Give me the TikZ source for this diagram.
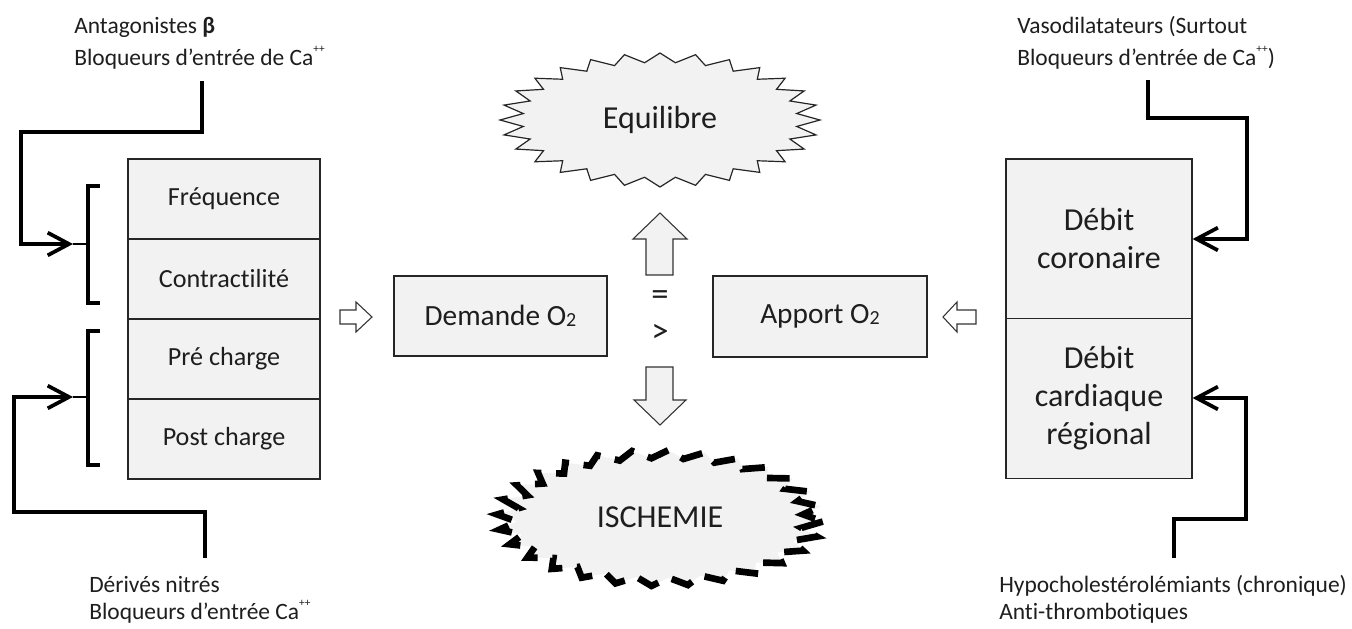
\documentclass[tikz,border=0pt]{standalone}
\usepackage{fontspec}
\setmainfont{Carlito}[Ligatures={NoCommon,NoContextual}]
\usetikzlibrary{arrows.meta}
\definecolor{cellgray}{HTML}{F2F2F2}
\definecolor{ink}{HTML}{1E1E1E}
\newcommand\myfsmall{\fontsize{17.6pt}{24pt}\selectfont}
\newcommand\myfcell{\fontsize{19.6pt}{24pt}\selectfont}
\newcommand\myfmid{\fontsize{22pt}{26pt}\selectfont}
\newcommand\myfbig{\fontsize{24pt}{28.5pt}\selectfont}
\newcommand\mycapp{\raisebox{0.55em}{\fontsize{8.5pt}{8.5pt}\selectfont ++}}
\newcommand\mysubtwo{\raisebox{-0.04em}{\fontsize{15pt}{15pt}\selectfont 2}}
\begin{document}
\begin{tikzpicture}[x=0.75pt,y=-0.75pt,
  every node/.style={text=ink},
  cellbox/.style={draw=black!85, line width=0.9pt, fill=cellgray, inner sep=0pt},
  lbl/.style={anchor=base west, inner sep=0pt, font=\myfsmall},
  conn/.style={line width=3.6pt, draw=black, -{Straight Barb[length=16pt,width=17pt,line width=2.8pt]}},
  bracestyle/.style={line width=2.4pt, draw=black},
  blockarrow/.style={draw=black!80, line width=0.8pt, fill=cellgray},
  smallarrow/.style={draw=black!80, line width=0.8pt, fill=white},
]
\useasboundingbox (0,0) rectangle (1352,628);
\fill[white] (0,0) rectangle (1352,628);

% ---------- left stack ----------
\node[cellbox, minimum width=144pt, minimum height=60pt, font=\myfcell] (l1) at (224,199) {Fréquence};
\node[cellbox, minimum width=144pt, minimum height=60pt, font=\myfcell] (l2) at (224,279) {Contractilité};
\node[cellbox, minimum width=144pt, minimum height=60pt, font=\myfcell] (l3) at (224,359) {Pré charge};
\node[cellbox, minimum width=144pt, minimum height=60pt, font=\myfcell] (l4) at (224,439) {Post charge};

% braces
\draw[bracestyle] (100,186) -- (88,186) -- (88,303) -- (100,303);
\draw[bracestyle] (100,331) -- (88,331) -- (88,465) -- (100,465);
\coordinate (b1) at (88,244);
\coordinate (b2) at (88,397);
\coordinate (a1) at (73,244);
\coordinate (a2) at (73,397);
\draw[line width=2.2pt] (a1) -- (b1);
\draw[line width=2.2pt] (a2) -- (b2);

% ---------- right stack ----------
\node[cellbox, minimum width=139.5pt, minimum height=120pt, font=\myfbig, align=center] (r1) at (1099,239) {Débit\\coronaire};
\node[cellbox, minimum width=139.5pt, minimum height=119.5pt, font=\myfbig, align=center] (r2) at (1099,398.5) {\fontsize{24pt}{33.5pt}\selectfont Débit\\cardiaque\\régional};

% ---------- centre ----------
\node[cellbox, minimum width=159.75pt, minimum height=60pt, font=\myfmid] (dem) at (500.5,316) {Demande O\mysubtwo};
\node[cellbox, minimum width=160.5pt, minimum height=60.75pt, font=\myfmid] (app) at (820,316.5) {Apport O\mysubtwo};
\node[font=\fontsize{26pt}{30pt}\selectfont, inner sep=0pt] (eqs) at (660,298) {=};
\node[font=\fontsize{26pt}{30pt}\selectfont, inner sep=0pt] (gts) at (660,333) {>};

% block arrows
\draw[blockarrow] (646,275) -- (646,239) -- (633,239) -- (660,213) -- (687,239) -- (673,239) -- (673,275) -- cycle;
\draw[blockarrow] (646,367) -- (646,400) -- (634,400) -- (660,425) -- (686,400) -- (673,400) -- (673,367) -- cycle;
\draw[smallarrow] (340,310) -- (356,310) -- (356,302) -- (372,317) -- (356,332) -- (356,324) -- (340,324) -- cycle;
\draw[smallarrow] (976,310) -- (957,310) -- (957,302) -- (943,317) -- (957,332) -- (957,324) -- (976,324) -- cycle;

% Equilibre burst
\draw[draw=black!85, line width=0.9pt, fill=cellgray]
  plot[samples=56, domain=0:55, variable=\k]
  ({660+160*(0.93+0.07*cos(\k*180))*cos(\k*6.428571)},
   {120+67*(0.93+0.07*cos(\k*180))*sin(\k*6.428571)}) -- cycle;
\node[font=\myfbig, inner sep=0pt] (equ) at (660,120) {Equilibre};

% Ischemie burst
\fill[cellgray]
  plot[samples=56, domain=0:55, variable=\k]
  ({660+163*(0.94+0.06*cos(\k*180))*cos(\k*6.428571+3)},
   {518+68*(0.94+0.06*cos(\k*180))*sin(\k*6.428571+3)}) -- cycle;
\draw[draw=black, line width=5pt, dash pattern=on 17pt off 11pt]
  plot[samples=56, domain=0:55, variable=\k]
  ({660+163*(0.94+0.06*cos(\k*180))*cos(\k*6.428571+3)},
   {518+68*(0.94+0.06*cos(\k*180))*sin(\k*6.428571+3)}) -- cycle;
\node[font=\myfbig, inner sep=0pt] (isc) at (660,517) {ISCHEMIE};

% ---------- labels ----------
\node[lbl] (tl1) at (74,33) {Antagonistes \textbf{β}};
\node[lbl] (tl2) at (74,65) {Bloqueurs d’entrée de Ca\mycapp};
\node[lbl] (tr1) at (1017,33) {Vasodilatateurs (Surtout};
\node[lbl] (tr2) at (1017,65) {Bloqueurs d’entrée de Ca\mycapp)};
\node[lbl] (bl1) at (89,592) {Dérivés nitrés};
\node[lbl] (bl2) at (89,619) {Bloqueurs d’entrée Ca\mycapp};
\node[lbl] (br1) at (999,592) {Hypocholestérolémiants (chronique)};
\node[lbl] (br2) at (999,619) {Anti-thrombotiques};

% ---------- connectors ----------
\coordinate (s1) at (202,81);
\coordinate (s2) at (205,558);
\coordinate (s3) at (1148,80);
\coordinate (s4) at (1174,558);
\draw[conn] (s1) |- (21,132) |- (a1);
\draw[conn] (s2) |- (14,512) |- (a2);
\draw[conn] (s3) |- (1247,118) |- (r1.east);
\draw[conn] (s4) |- (1246,519) |- (r2.east |- 0,398);
\end{tikzpicture}
\end{document}
